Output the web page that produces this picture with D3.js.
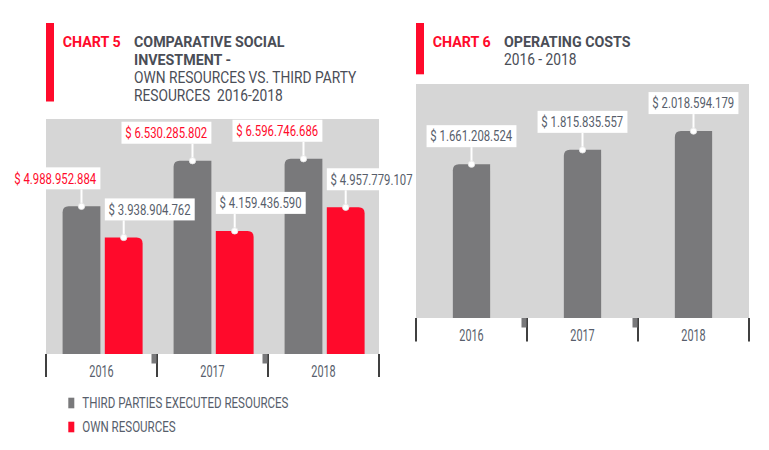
<!DOCTYPE html>
<html><head><meta charset="utf-8">
<script src="https://cdn.jsdelivr.net/npm/d3@7"></script>
<style>
body{margin:0;background:#fff;}
svg{display:block;}
text{font-family:Roboto,"Noto Sans","DejaVu Sans",sans-serif;white-space:pre;}
</style></head>
<body>
<svg id="c" width="769" height="450"></svg>
<script>
// ---- data ----
const years = ["2016", "2017", "2018"];
const seriesNames = ["THIRD PARTIES EXECUTED RESOURCES", "OWN RESOURCES"];
const thirdParties = [4988952884, 6530285802, 6596746686];
const ownResources = [3938904762, 4159436590, 4957779107];
const operatingCosts = [1661208524, 1815835557, 2018594179];
const chart5Title = ["COMPARATIVE SOCIAL", "INVESTMENT -"];
const chart5Sub = ["OWN RESOURCES VS. THIRD PARTY", "RESOURCES  2016-2018"];
const chart6Title = ["OPERATING COSTS"];
const chart6Sub = ["2016 - 2018"];

const RED = "#ff0a2b", GREY = "#79797b", PANEL = "#d6d6d6", SLATE = "#575e6b", DARK = "#4a4d56";
const fmt = v => "$ " + d3.format(",")(v).replace(/,/g, ".");

const svg = d3.select("#c");

// condensed look: compress each text horizontally by factor k
function squeeze(t, k) {
  const w = t.node().getComputedTextLength();
  t.attr("textLength", w * k).attr("lengthAdjust", "spacingAndGlyphs");
  return w * k;
}

function barPath(x, y, w, h, rl, rr) {
  return `M${x},${y + h}V${y + rl}` + (rl ? `Q${x},${y} ${x + rl},${y}` : "") +
    `H${x + w - rr}` + (rr ? `Q${x + w},${y} ${x + w},${y + rr}` : "") + `V${y + h}Z`;
}

function header(x, tag, boldLines, subLines, barH) {
  const g = svg.append("g");
  g.append("rect").attr("x", x).attr("y", 23).attr("width", 8).attr("height", barH).attr("fill", RED);
  squeeze(g.append("text").attr("x", x + 16.7).attr("y", 47.3).attr("fill", RED)
    .attr("font-weight", "bold").attr("font-size", 15).text(tag), 0.95);
  const lines = boldLines.map(t => ({t, b: true})).concat(subLines.map(t => ({t, b: false})));
  lines.forEach((l, i) => {
    const t = g.append("text").attr("x", x + 88).attr("y", 47.3 + i * 17.9)
      .attr("fill", DARK).attr("font-weight", l.b ? "bold" : "normal")
      .attr("font-size", l.b ? 15 : 16).text(l.t);
    squeeze(t, l.b ? 0.95 : 0.86);
  });
}

function label(g, text, cx, barTop, color, align, anchorX) {
  const boxH = 22, gap = 17;
  const t = g.append("text").attr("font-size", 14).attr("fill", color).text(text);
  const w = squeeze(t, 0.81) + 8;
  let bx = align === "right" ? anchorX - w : align === "left" ? anchorX : cx - w / 2;
  const by = barTop - gap - boxH;
  g.insert("rect", "text").attr("x", bx).attr("y", by).attr("width", w).attr("height", boxH).attr("fill", "#fff");
  t.attr("x", bx + 3.8).attr("y", by + 16.3);
  g.append("line").attr("x1", cx).attr("x2", cx).attr("y1", by + boxH).attr("y2", barTop)
    .attr("stroke", "#fff").attr("stroke-width", 2);
  g.append("circle").attr("cx", cx).attr("cy", barTop).attr("r", 3.2)
    .attr("fill", "#fff").attr("stroke", "#e4e4e4").attr("stroke-width", 0.8);
}

function axisTicks(x, bottom, len) {
  const g = svg.append("g");
  const edges = x.domain().map(d => x(d)).concat([x.range()[1]]);
  edges.forEach((e, i) => {
    g.append("line").attr("x1", e).attr("x2", e).attr("y1", bottom).attr("y2", bottom + len)
      .attr("stroke", "#000").attr("stroke-width", 1.5);
    if (i > 0 && i < edges.length - 1) {
      g.append("rect").attr("x", e - 5.5).attr("y", bottom).attr("width", 5).attr("height", 9.5).attr("fill", GREY);
    }
  });
  x.domain().forEach(d => {
    squeeze(g.append("text").attr("x", x(d) + x.bandwidth() / 2).attr("y", bottom + 22.5)
      .attr("text-anchor", "middle").attr("font-size", 16).attr("fill", SLATE).text(d), 0.68);
  });
}

// ---- Chart 5 ----
header(46, "CHART 5", chart5Title, chart5Sub, 78.5);
const x5 = d3.scaleBand().domain(years).range([46, 379]).padding(0);
const x5s = d3.scaleBand().domain(seriesNames).range([16.6, 96.6]).paddingInner(0.105);
const y5 = d3.scaleLinear().domain([0, 7.94e9]).range([354, 119]);
svg.append("rect").attr("x", 46).attr("y", 119).attr("width", 333).attr("height", 235).attr("fill", PANEL);

const g5 = svg.append("g");
const g5l = svg.append("g");
years.forEach((yr, i) => {
  const xg = x5(yr) + x5s(seriesNames[0]), xr = x5(yr) + x5s(seriesNames[1]), bw = x5s.bandwidth();
  const tg = y5(thirdParties[i]), tr = y5(ownResources[i]);
  g5.append("path").attr("d", barPath(xg, tg, bw, y5(0) - tg, 6, 0)).attr("fill", GREY);
  g5.append("path").attr("d", barPath(xr, tr, bw, y5(0) - tr, 0, 6)).attr("fill", RED);
  label(g5l, fmt(thirdParties[i]), xg + bw / 2, tg, RED, "right", xg + bw);
  label(g5l, fmt(ownResources[i]), xr + bw / 2, tr, SLATE, "left", xr);
});
axisTicks(x5, 354, 23);

// legend
const leg = svg.append("g");
[GREY, RED].forEach((c, i) => {
  leg.append("rect").attr("x", 68.3).attr("y", 397.7 + i * 24).attr("width", 6).attr("height", 10.6).attr("fill", c);
  squeeze(leg.append("text").attr("x", 82.3).attr("y", 408.3 + i * 23.6).attr("font-size", 15)
    .attr("fill", SLATE).text(seriesNames[i]), 0.77);
});

// ---- Chart 6 ----
header(416, "CHART 6", chart6Title, chart6Sub, 51.3);
const x6 = d3.scaleBand().domain(years).range([416, 749]).padding(0);
const y6 = d3.scaleLinear().domain([0, 2.527e9]).range([318, 84]);
svg.append("rect").attr("x", 416).attr("y", 84).attr("width", 333).attr("height", 234).attr("fill", PANEL);
const g6 = svg.append("g"), g6l = svg.append("g");
const bw6 = 37.3;
years.forEach((yr, i) => {
  const cx = x6(yr) + x6.bandwidth() / 2, t = y6(operatingCosts[i]);
  g6.append("path").attr("d", barPath(cx - bw6 / 2, t, bw6, y6(0) - t, 6, 0)).attr("fill", GREY);
  label(g6l, fmt(operatingCosts[i]), cx, t, SLATE, "center", cx);
});
axisTicks(x6, 318, 23.5);
</script>
</body></html>
